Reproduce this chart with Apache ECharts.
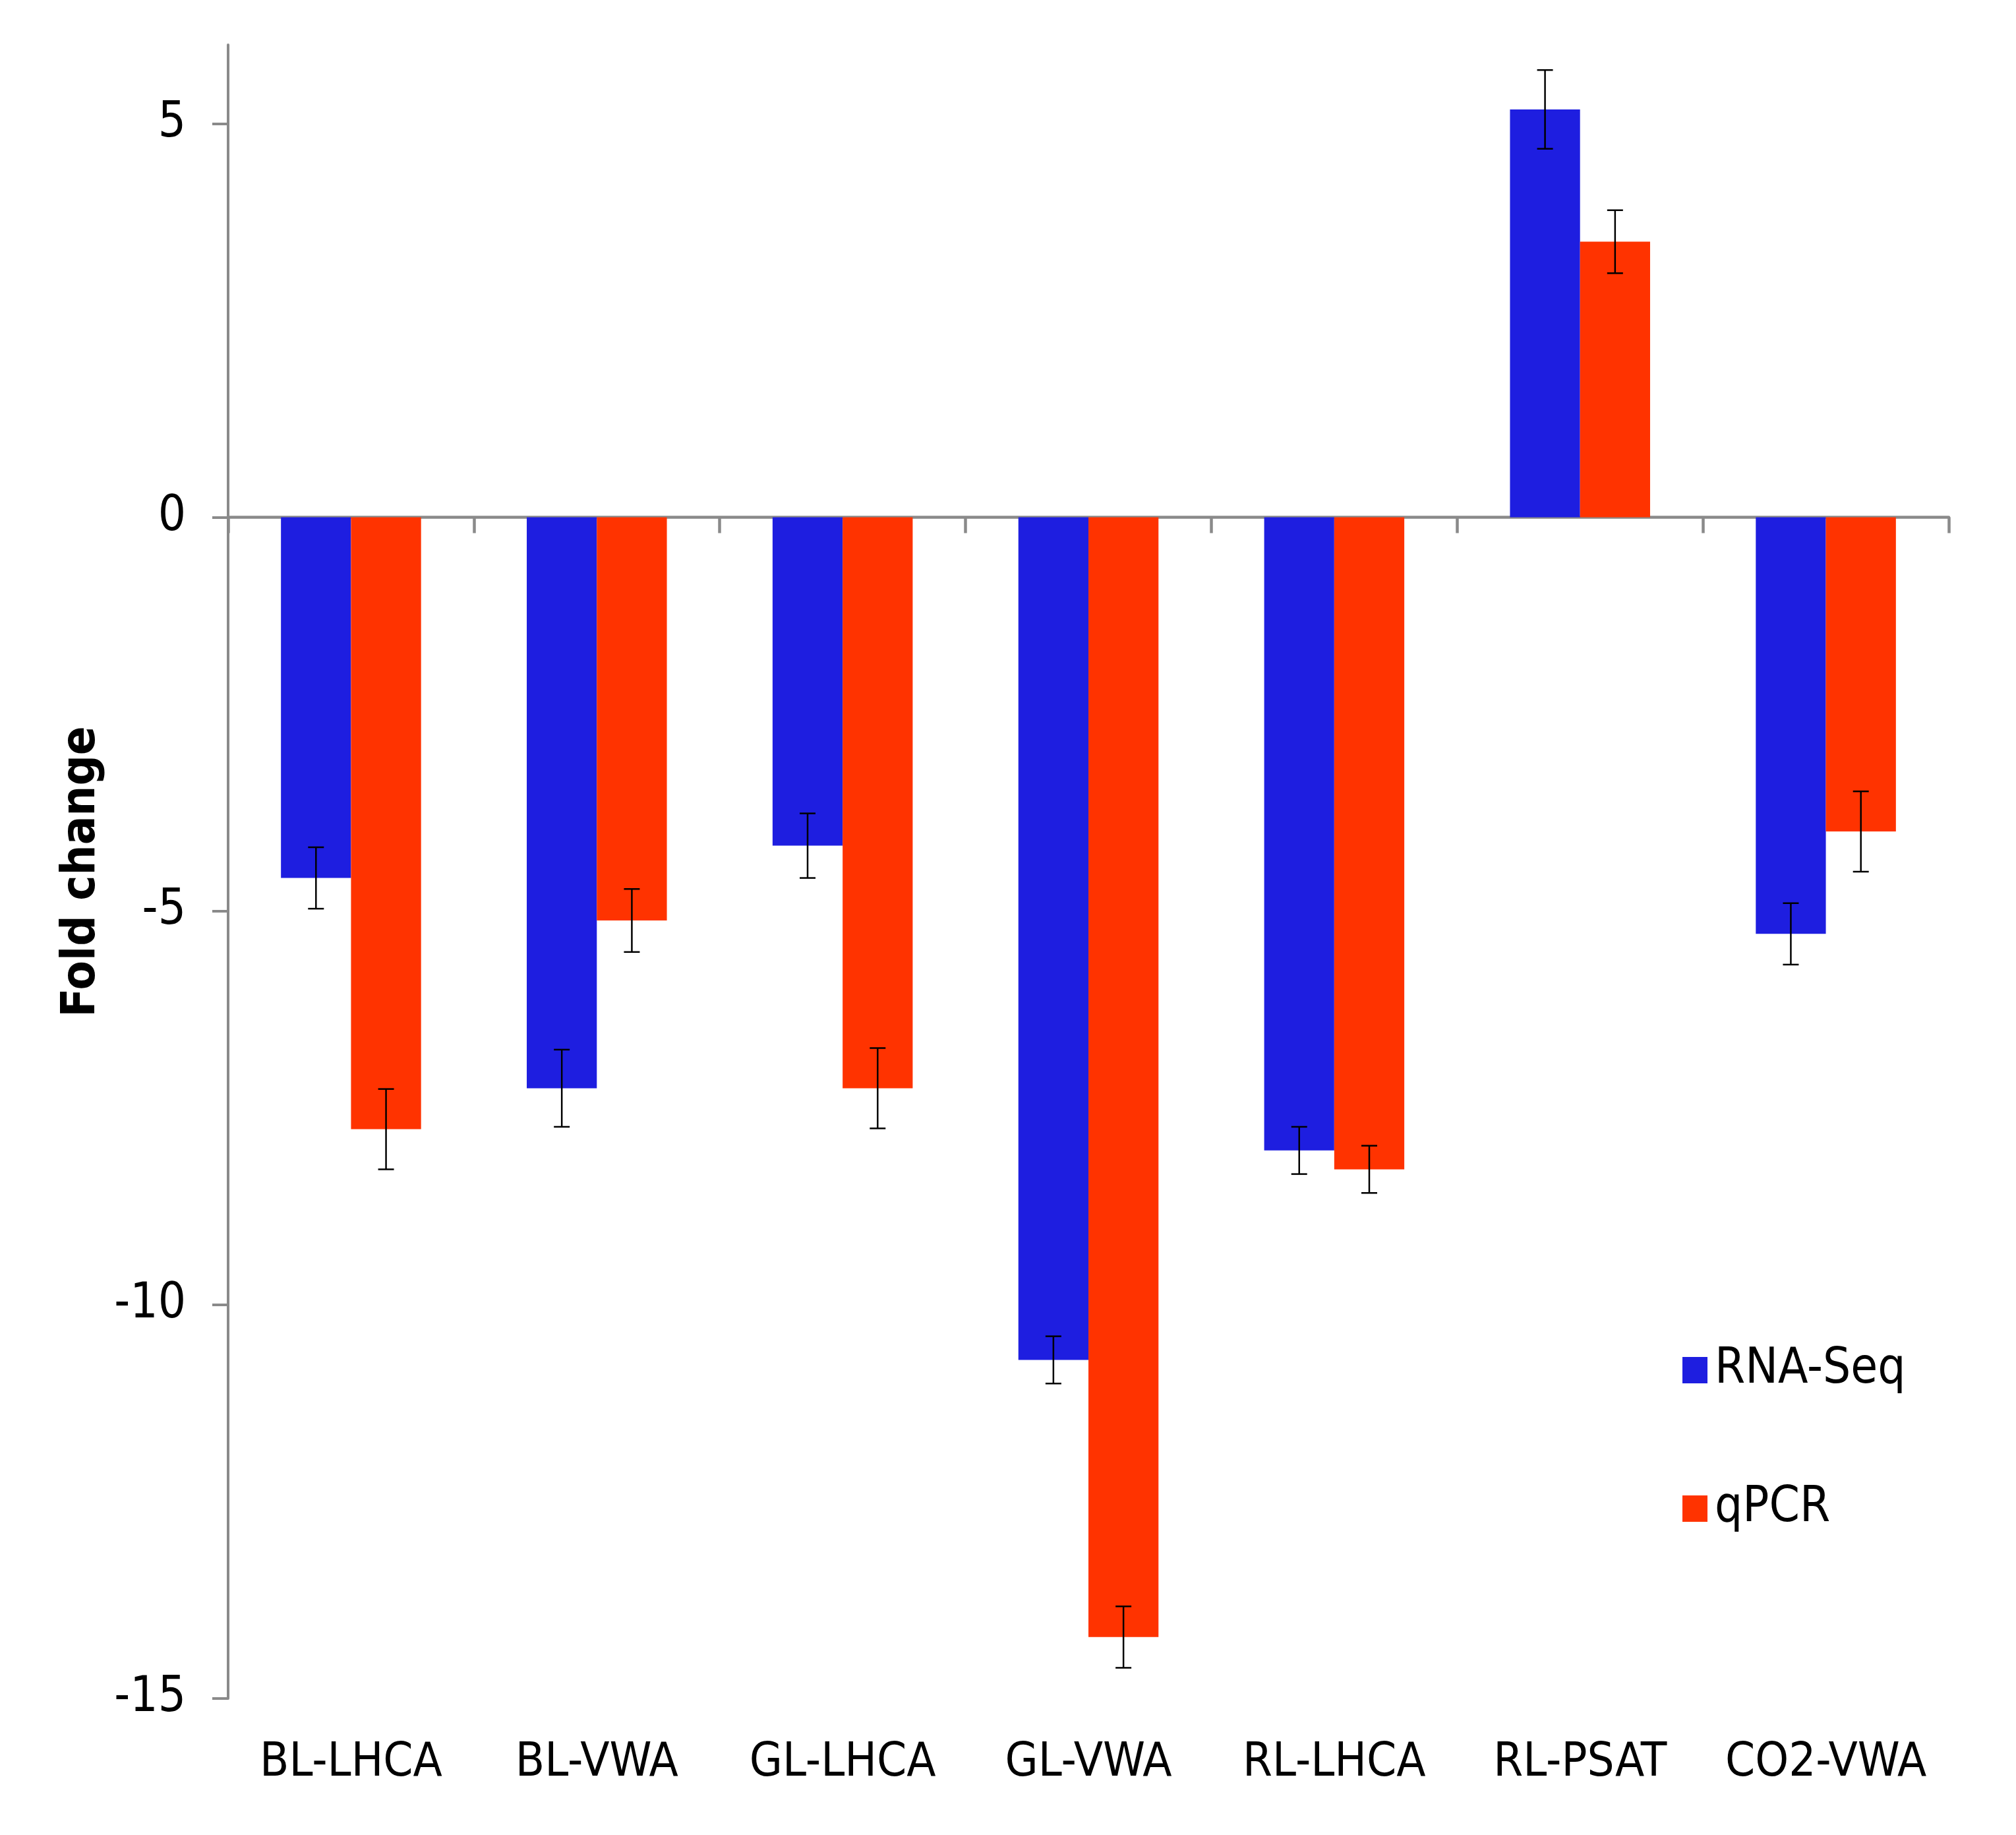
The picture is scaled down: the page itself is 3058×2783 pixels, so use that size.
<!DOCTYPE html>
<html>
<head>
<meta charset="utf-8">
<title>Fold change</title>
<script src="https://cdn.jsdelivr.net/npm/echarts@6/dist/echarts.min.js"></script>
<style>
  html, body { margin: 0; padding: 0; background: #fff; }
  #chart { width: 3058px; height: 2783px; }
</style>
</head>
<body>
<div id="chart"></div>
<script>
// data
const genes = ['BL-LHCA', 'BL-VWA', 'GL-LHCA', 'GL-VWA', 'RL-LHCA', 'RL-PSAT', 'CO2-VWA'];
const rnaSeq = [-4.58, -7.25, -4.17, -10.70, -8.04, 5.18, -5.29];
const qpcr = [-7.77, -5.12, -7.25, -14.22, -8.28, 3.50, -3.99];
const rnaSeqErr = [0.39, 0.49, 0.41, 0.30, 0.30, 0.50, 0.39];
const qpcrErr = [0.51, 0.40, 0.51, 0.39, 0.30, 0.40, 0.51];
const yTicks = [-15, -10, -5, 0, 5];

const FONT = '"Liberation Sans Narrow", "DejaVu Sans Condensed", "Liberation Sans", sans-serif';
const AXIS_GRAY = '#8a8a8a';
const GAP = 0.43; // barCategoryGap

let chart = echarts.init(document.getElementById('chart'));

// error bar drawer, side = -1 left bar, +1 right bar
const errorBars = (side) => function (params, api) {
    let band = api.size([1, 0])[0];
    let barW = band * (1 - GAP) / 2;
    let x = api.coord([api.value(0), 0])[0] + side * barW / 2;
    let top = api.coord([api.value(0), api.value(2)])[1];
    let bot = api.coord([api.value(0), api.value(1)])[1];
    let cap = 12;
    let style = {stroke: '#000', lineWidth: 2.5};
    return {
        type: 'group',
        children: [
            {type: 'line', shape: {x1: x, y1: top, x2: x, y2: bot}, style},
            {type: 'line', shape: {x1: x - cap, y1: top, x2: x + cap, y2: top}, style},
            {type: 'line', shape: {x1: x - cap, y1: bot, x2: x + cap, y2: bot}, style}
        ]
    };
};

const errData = (vals, errs) => vals.map((v, i) => [i, v - errs[i], v + errs[i]]);

let option = {
    backgroundColor: '#fff',
    animation: false,
    textStyle: {fontFamily: FONT},
    grid: {left: 346, right: 102, top: 68, bottom: 207, containLabel: false},
    legend: {
        data: ['RNA-Seq', 'qPCR'],
        orient: 'vertical',
        left: 2547,
        top: 2036,
        icon: 'rect',
        itemWidth: 38,
        itemHeight: 40,
        itemGap: 136,
        textStyle: {fontSize: 74, color: '#000', fontFamily: FONT, padding: [0, 0, 0, 6]}
    },
    xAxis: [
        {
            type: 'category',
            data: genes,
            axisLine: {onZero: true, lineStyle: {color: AXIS_GRAY, width: 4.5}},
            axisTick: {show: true, length: 24, lineStyle: {color: AXIS_GRAY, width: 4.5}},
            axisLabel: {show: false},
            splitLine: {show: false}
        },
        {
            type: 'category',
            data: genes,
            position: 'bottom',
            axisLine: {show: false, onZero: false},
            axisTick: {show: false},
            axisLabel: {show: true, margin: 62, fontSize: 72, color: '#000', fontFamily: FONT, interval: 0},
            splitLine: {show: false}
        }
    ],
    yAxis: {
        type: 'value',
        min: -15,
        max: 6,
        interval: 5,
        name: 'Fold change',
        nameLocation: 'middle',
        nameGap: 186,
        nameTextStyle: {fontSize: 72, fontWeight: 'bold', color: '#000', fontFamily: FONT},
        axisLine: {show: true, lineStyle: {color: AXIS_GRAY, width: 4}},
        axisTick: {show: true, length: 24, customValues: yTicks, lineStyle: {color: AXIS_GRAY, width: 4}},
        axisLabel: {margin: 64, fontSize: 74, color: '#000', fontFamily: FONT, customValues: yTicks},
        splitLine: {show: false}
    },
    series: [
        {
            name: 'RNA-Seq',
            type: 'bar',
            xAxisIndex: 0,
            data: rnaSeq,
            barGap: '0%',
            barCategoryGap: '43%',
            itemStyle: {color: '#1e1ee0'}
        },
        {
            name: 'qPCR',
            type: 'bar',
            xAxisIndex: 0,
            data: qpcr,
            barGap: '0%',
            barCategoryGap: '43%',
            itemStyle: {color: '#ff3300'}
        },
        {
            type: 'custom',
            xAxisIndex: 0,
            renderItem: errorBars(-1),
            data: errData(rnaSeq, rnaSeqErr),
            z: 10
        },
        {
            type: 'custom',
            xAxisIndex: 0,
            renderItem: errorBars(1),
            data: errData(qpcr, qpcrErr),
            z: 10
        }
    ]
};

chart.setOption(option);
</script>
</body>
</html>
